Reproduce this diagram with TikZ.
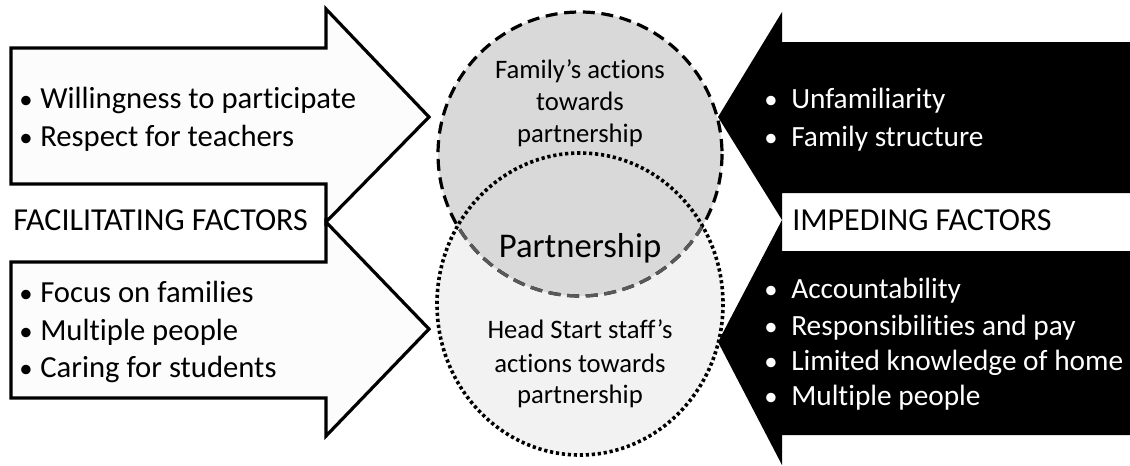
\documentclass[tikz,border=0pt]{standalone}
\usepackage{fontspec}
\setmainfont{Carlito}[Ligatures=NoCommon]
\usepackage{tikz}

\definecolor{arrowfill}{HTML}{FCFCFC}
\definecolor{famfill}{HTML}{D9D9D9}
\definecolor{stafffill}{HTML}{F2F2F2}
\definecolor{dashgray}{HTML}{595959}

\tikzset{
  facarrow/.style={draw=black, line width=2.4pt, fill=arrowfill, line join=miter},
  imparrow/.style={fill=black},
  famcircle/.style={line width=2.4pt, dash pattern=on 9pt off 5pt},
  staffcircle/.style={line width=2.7pt, dash pattern=on 2.4pt off 2.1pt},
  ltext/.style={anchor=base west, inner sep=0pt, font=\fontsize{23}{28}\selectfont},
  rtext/.style={anchor=base west, inner sep=0pt, text=white, font=\fontsize{22}{27}\selectfont},
  headtext/.style={anchor=base west, inner sep=0pt, font=\fontsize{24}{29}\selectfont},
  ctext/.style={anchor=base, inner sep=0pt, font=\fontsize{20}{24}\selectfont}
}

\begin{document}
\begin{tikzpicture}[x=0.75pt, y=-0.75pt]

  \newcommand\BulL{\makebox[15.75pt][l]{\fontsize{20}{24}\selectfont •}}
  \newcommand\BulR{\makebox[20.25pt][l]{\fontsize{20}{24}\selectfont •}}

  \useasboundingbox (0,0) rectangle (1130,465);

  % facilitating arrows
  \draw[facarrow] (11,48) -- (326,48) -- (326,9) -- (429,117) -- (326,222)
    -- (326,184) -- (11,184) -- cycle;
  \draw[facarrow] (11,262) -- (326,262) -- (326,222) -- (429,329) -- (326,436)
    -- (326,398) -- (11,398) -- cycle;

  % impeding arrows
  \fill[imparrow] (1130,42) -- (782,42) -- (782,12) -- (718,117) -- (782,220)
    -- (782,193) -- (1130,193) -- cycle;
  \fill[imparrow] (1130,251) -- (782,251) -- (782,220) -- (718,342) -- (782,465)
    -- (782,435) -- (1130,435) -- cycle;

  % the two circles
  \fill[stafffill] (580,304) ellipse [x radius=143, y radius=151];
  \fill[famfill] (580,154) circle [radius=142];
  \draw[staffcircle] (580,304) ellipse [x radius=143, y radius=151];
  \draw[famcircle] (580,154) circle [radius=142];
  \begin{scope}
    \clip (580,304) ellipse [x radius=142, y radius=150];
    \draw[famcircle, dashgray] (580,154) circle [radius=142];
  \end{scope}

  \node[ltext] (will) at (19,108) {\BulL Willingness to participate};
  \node[ltext] (resp) at (19,146) {\BulL Respect for teachers};
  \node[headtext] (fac) at (13,230) {FACILITATING FACTORS};
  \node[ltext] (focus) at (19,302) {\BulL Focus on families};
  \node[ltext] (multl) at (19,340) {\BulL Multiple people};
  \node[ltext] (caring) at (19,377) {\BulL Caring for students};

  \node[rtext] (unfam) at (764,108) {\BulR Unfamiliarity};
  \node[rtext] (struct) at (764,146) {\BulR Family structure};
  \node[headtext] (imp) at (792,230) {IMPEDING FACTORS};
  \node[rtext] (account) at (764,298) {\BulR Accountability};
  \node[rtext] (pay) at (764,335) {\BulR Responsibilities and pay};
  \node[rtext] (home) at (764,370) {\BulR Limited knowledge of home};
  \node[rtext] (multr) at (764,405) {\BulR Multiple people};

  \node[ctext] (fam1) at (580,78) {Family’s actions};
  \node[ctext] (fam2) at (580,110) {towards};
  \node[ctext] (fam3) at (580,142) {partnership};
  \node[ctext, font=\fontsize{26}{30}\selectfont] (part) at (580,257) {Partnership};
  \node[ctext] (staff1) at (580,338) {Head Start staff’s};
  \node[ctext] (staff2) at (580,372) {actions towards};
  \node[ctext] (staff3) at (580,403) {partnership};

\end{tikzpicture}
\end{document}
